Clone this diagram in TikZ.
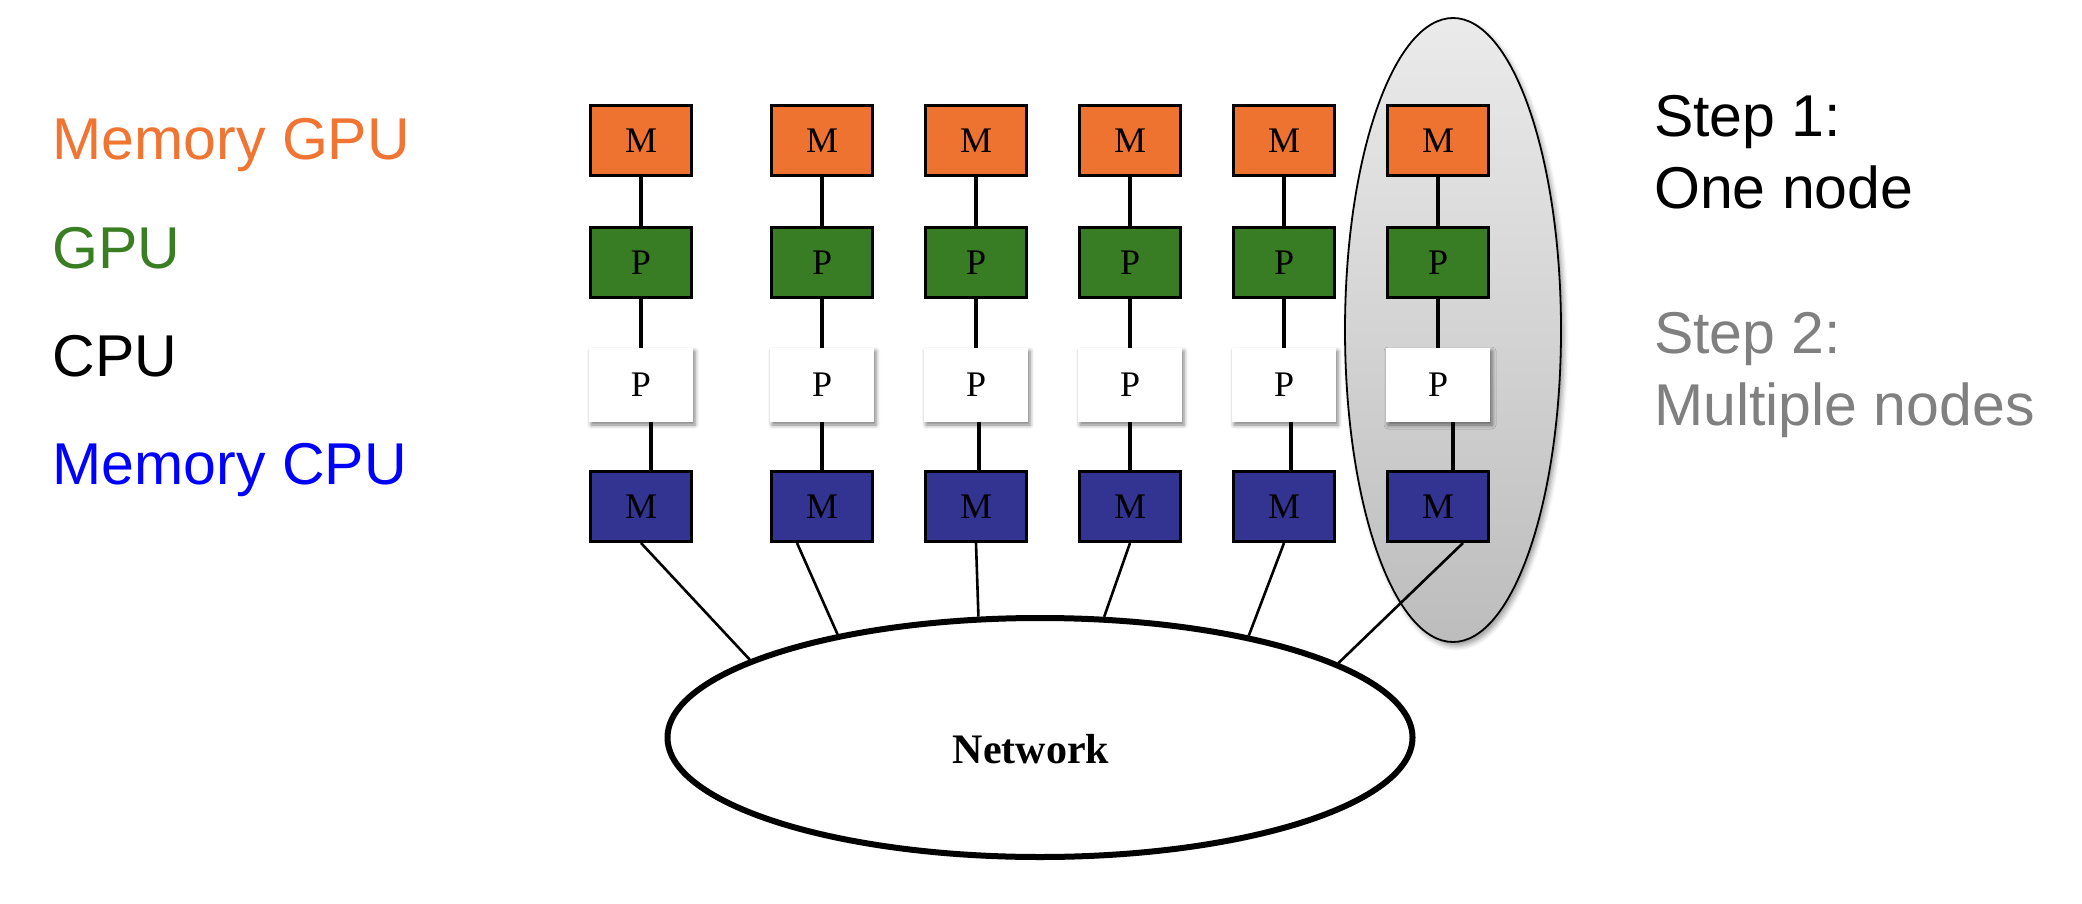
\documentclass[tikz,border=0pt]{standalone}
\usepackage{fontspec}
\setmainfont{Liberation Serif}
\newfontfamily\arialf{Liberation Sans}
\usetikzlibrary{shapes.geometric,shadows.blur}
\definecolor{memgbox}{RGB}{238,114,48}
\definecolor{gpubox}{RGB}{56,124,35}
\definecolor{memcbox}{RGB}{51,51,145}
\definecolor{memgtxt}{RGB}{240,116,50}
\definecolor{gputxt}{RGB}{58,126,36}
\definecolor{memctxt}{RGB}{0,0,255}
\definecolor{steptwo}{RGB}{128,128,128}
\begin{document}
\begin{tikzpicture}[x=1pt,y=-1pt,
  box/.style={draw=black,line width=3pt,minimum width=101pt,minimum height=70pt,
    inner sep=0pt,font=\fontsize{36}{40}\selectfont},
  mgpu/.style={box,fill=memgbox},
  gpu/.style={box,fill=gpubox},
  cpu/.style={fill=white,minimum width=104pt,minimum height=74pt,inner sep=0pt,
    font=\fontsize{36}{40}\selectfont,
    blur shadow={shadow xshift=2pt,shadow yshift=-3pt,shadow blur radius=4pt,shadow opacity=50}},
  mcpu/.style={box,fill=memcbox},
  link/.style={line width=4pt},
  netlink/.style={line width=2.6pt},
  legend/.style={anchor=base west,inner sep=0pt,font=\arialf\fontsize{59}{70}\selectfont}
]
\useasboundingbox (0,0) rectangle (2082,904);

% highlighted node
\node[ellipse,draw=black,line width=1.8pt,minimum width=216pt,minimum height=624pt,
  inner sep=0pt,top color=black!8,bottom color=black!26,
  blur shadow={shadow xshift=3pt,shadow yshift=-4pt,shadow blur radius=5pt,shadow opacity=40}]
  (hl) at (1453,330) {};

% network
\node[ellipse,draw=black,line width=6pt,fill=white,minimum width=745pt,
  minimum height=239pt,inner sep=0pt] (net) at (1040,737.5) {};
\node[inner sep=0pt,font=\fontsize{42}{48}\selectfont\bfseries] (netlabel) at (1031,749) {Network};

% columns
\foreach \i/\x/\dw/\ds/\ang in {1/641/10/0/165.8, 2/822/0/-25/153, 3/976/3/0/117,
    4/1130/0/0/62, 5/1284/7/0/26.6, 6/1438/15/25/14.1} {
  \node[mgpu] (m\i) at (\x,140.5) {M};
  \node[gpu]  (g\i) at (\x,262.5) {P};
  \node[cpu]  (c\i) at (\x,385) {P};
  \node[mcpu] (b\i) at (\x,506.5) {M};
  \draw[link] (m\i.south) -- (g\i.north);
  \draw[link] (g\i.south) -- (c\i.north);
  \draw[link] ([xshift=\dw pt]c\i.south) -- ([xshift=\dw pt]b\i.north);
  \draw[netlink] ([xshift=\ds pt]b\i.south) -- (net.\ang);
}

% legend
\node[legend,text=memgtxt] (lmg) at (52.5,160) {Memory GPU};
\node[legend,text=gputxt]  (lg)  at (52.5,268) {GPU};
\node[legend,text=black]   (lc)  at (52.5,376) {CPU};
\node[legend,text=memctxt] (lmc) at (52.5,484) {Memory CPU};

% steps
\node[legend,text=black]   (s1a) at (1654,137) {Step 1:};
\node[legend,text=black]   (s1b) at (1654,208) {One node};
\node[legend,text=steptwo] (s2a) at (1654,353) {Step 2:};
\node[legend,text=steptwo] (s2b) at (1654,425) {Multiple nodes};
\end{tikzpicture}
\end{document}
